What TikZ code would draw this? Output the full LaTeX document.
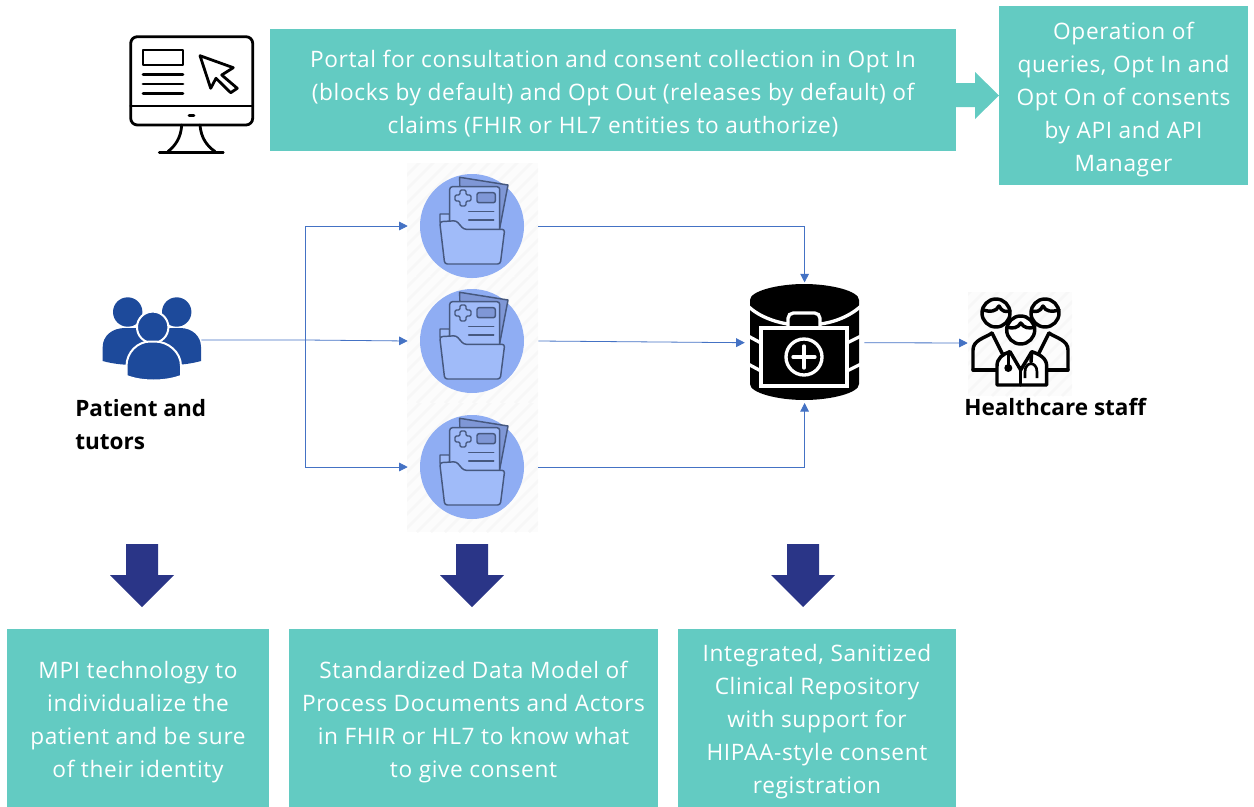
\documentclass[tikz,border=0pt]{standalone}
\usepackage{fontspec}
\setmainfont{Open Sans}
\newfontfamily\boxfont[LetterSpace=2.8]{Open Sans}
\usetikzlibrary{arrows.meta}

\definecolor{boxteal}{HTML}{63CBC2}
\definecolor{navyarrow}{HTML}{2A3587}
\definecolor{linkblue}{HTML}{4472C4}
\definecolor{folderdisc}{HTML}{8FADF3}
\definecolor{foldersheet}{HTML}{A0BBF9}
\definecolor{folderdark}{HTML}{7F97D6}
\definecolor{folderline}{HTML}{46587F}
\definecolor{peopleblue}{HTML}{1D4A9B}

\newcommand\toprule{\rule{0pt}{18.5pt}}

\tikzset{
  textbox/.style={fill=boxteal,text=white,inner sep=0pt,align=center,font=\boxfont\fontsize{17}{24.75}\selectfont},
  boldlabel/.style={inner sep=0pt,align=left,font=\fontsize{16.9}{24.75}\selectfont\bfseries},
  link/.style={draw=linkblue,line width=0.6pt,-{Triangle[length=6.5pt,width=6.5pt]}},
  hatch/.style={draw=black!3,line width=2pt},
  icon/.style={line width=2.1pt,line cap=round,line join=round},
}

\begin{document}
\begin{tikzpicture}[x=0.75pt,y=0.75pt,yscale=-1,xscale=1]
\useasboundingbox (0,0) rectangle (1254,807);

% pale squares behind the icons
\foreach \bx/\by/\bw/\bh in {407/163/131/114, 407/277/131/126, 407/403/131/129, 968/292/104/104} {
  \begin{scope}
    \clip (\bx,\by) rectangle ++(\bw,\bh);
    \fill[black!1] (\bx,\by) rectangle ++(\bw,\bh);
    \foreach \hx in {0,14,...,280} {
      \draw[hatch] (\bx+\hx-130,\by+\bh) -- ++(130,-130);
    }
  \end{scope}
}

% text boxes
\node[textbox,minimum width=514.5pt,minimum height=91.5pt] (portal) at (613,90) {\toprule Portal for consultation and consent collection in Opt In\\(blocks by default) and Opt Out (releases by default) of\\claims (FHIR or HL7 entities to authorize)};
\node[textbox,minimum width=186.75pt,minimum height=134.25pt] (operation) at (1123.5,95.5) {\toprule Operation of\\queries, Opt In and\\Opt On of consents\\by API and API\\Manager};
\node[textbox,minimum width=196.5pt,minimum height=133.5pt] (mpi) at (138,718) {\toprule MPI technology to\\individualize the\\patient and be sure\\of their identity};
\node[textbox,minimum width=276.75pt,minimum height=133.5pt] (model) at (473.5,718) {\toprule Standardized Data Model of\\Process Documents and Actors\\in FHIR or HL7 to know what\\to give consent};
\node[textbox,minimum width=208.5pt,minimum height=133.5pt] (repo) at (817,718) {\toprule Integrated, Sanitized\\Clinical Repository\\with support for\\HIPAA-style consent\\registration};

% block arrows
\fill[boxteal] (956,83) -- (975,83) -- (975,72) -- (999,95.5) -- (975,119) -- (975,107) -- (956,107) -- cycle;
\foreach \ax in {142,472,803} {
  \fill[navyarrow] (\ax-16,544) -- (\ax+16,544) -- (\ax+16,575) -- (\ax+32,575) -- (\ax,607) -- (\ax-32,575) -- (\ax-16,575) -- cycle;
}

% computer
\draw[icon,rounded corners=5pt] (130.7,36.7) rectangle (252.7,125);
\draw[icon] (130.7,106) -- (252.7,106);
\draw[icon] (189,115.7) -- (194,115.7);
\draw[icon] (143,50) rectangle (183,65);
\foreach \ly in {74.3,84,93.3} {
  \draw[icon] (143,\ly) -- (183,\ly);
}
\draw[icon] (200,55.7) -- (233.3,67.7) -- (221.7,75) -- (237.3,88.3) -- (230.7,92.7) -- (216,78.3) -- (210.7,88.3) -- cycle;
\draw[icon] (181.7,125) .. controls (181,138) and (175,146) .. (168,151.5);
\draw[icon] (200,125) .. controls (201,138) and (207,146) .. (215,151.5);
\draw[icon] (159.3,152.3) -- (223.3,152.3);

% patient and tutors
\node[minimum width=75pt,minimum height=62pt,inner sep=0pt] (patient) at (151,340) {};
\fill[peopleblue] (127.7,312) circle (14.7);
\fill[peopleblue] (176.7,312) circle (14.7);
\fill[peopleblue] (102.7,361) -- (102.7,347) .. controls (102.7,336) and (112,328) .. (125,328) -- (180,328) .. controls (192,328) and (201,336) .. (201,347) -- (201,361) .. controls (190,364) and (180,365) .. (170,365) -- (135,365) .. controls (125,365) and (113,364) .. (102.7,361) -- cycle;
\draw[fill=peopleblue,draw=white,line width=1.5pt] (152.7,327.3) circle (15.7);
\draw[fill=peopleblue,draw=white,line width=1.5pt] (126.5,376) -- (126.5,366) .. controls (126.5,352) and (138,341.5) .. (150,341.5) -- (155,341.5) .. controls (168,341.5) and (181,352) .. (181,366) -- (181,376) .. controls (165,382) and (142,382) .. (126.5,376) -- cycle;
\node[boldlabel,anchor=north west] (patientlabel) at (75,399) {Patient and\\tutors};

% record folders
\foreach \fy/\fname in {226/folderA,341/folderB,467/folderC} {
  \node[minimum width=97.5pt,minimum height=78pt,inner sep=0pt] (\fname) at (473,\fy) {};
  \begin{scope}[shift={(472,\fy)}]
    \fill[folderdisc] (0,0) circle (52);
    \begin{scope}[draw=folderline,line width=1.1pt,line join=round,line cap=round]
      \filldraw[fill=folderdark] (-12.3,-48.7) -- (36,-41) -- (27.7,2.3) -- (-12,-10) -- cycle;
      \filldraw[fill=foldersheet] (-32,-4) -- (-32,-12) -- (-22.3,-12) -- (-22.3,0) -- cycle;
      \filldraw[fill=foldersheet,rounded corners=2pt] (-22.3,10) -- (-22.3,-39.3) -- (27.7,-39.3) -- (27.7,10) -- cycle;
      \filldraw[fill=foldersheet,rounded corners=1pt] (-17,-31) -- (-12,-31) -- (-12,-36) -- (-6,-36) -- (-6,-31) -- (-1,-31) -- (-1,-25) -- (-6,-25) -- (-6,-20) -- (-12,-20) -- (-12,-25) -- (-17,-25) -- cycle;
      \filldraw[fill=folderdark,rounded corners=1.5pt] (5,-33.3) rectangle (23.3,-23.3);
      \draw (-3.3,-14.3) -- (21.7,-14.3);
      \draw (-3.3,-6) -- (21.7,-6);
      \filldraw[fill=foldersheet,rounded corners=2pt] (-32.3,-4.3) -- (-15.7,-5.3) -- (-8.3,3.3) -- (32.7,3.3) -- (28.3,38) -- (-27.3,38) -- cycle;
    \end{scope}
  \end{scope}
}

% clinical repository
\node[minimum width=89.25pt,minimum height=90pt,inner sep=0pt] (repository) at (804.6,342.7) {};
\fill[black] (750,300) .. controls (750,291) and (778,284) .. (804,284) .. controls (831,284) and (859,291) .. (859,300) -- (859,384) .. controls (859,393) and (831,400) .. (804,400) .. controls (778,400) and (750,393) .. (750,384) -- cycle;
\begin{scope}[draw=white,line width=2.5pt]
  \draw (748,306) .. controls (760,318) and (780,323) .. (788,324);
  \draw (820,324) .. controls (830,323) and (848,318) .. (861,306);
  \draw (748,336) -- (761,343);
  \draw (847,343) -- (861,336);
  \draw (748,364) -- (761,371);
  \draw (847,371) -- (861,364);
  \draw[rounded corners=4pt] (788,328) -- (788,313) -- (820,313) -- (820,328);
  \fill[black] (761,328) rectangle (847,386);
  \draw (761,328) rectangle (847,386);
  \draw (804,357) circle (18);
  \draw[line cap=round] (793,357) -- (815,357);
  \draw[line cap=round] (804,346) -- (804,368);
\end{scope}

% healthcare staff
\node[minimum width=78pt,minimum height=78pt,inner sep=0pt] (staff) at (1020,343) {};
\begin{scope}[line width=2.6pt,line cap=round,line join=round]
  \draw (973,370) -- (973,350) .. controls (973,340) and (985,338) .. (992,333);
  \draw (973,370) -- (997,370);
  \draw (1068,370) -- (1068,350) .. controls (1068,340) and (1056,338) .. (1049,333);
  \draw (1068,370) -- (1047,370);
  \draw (996,313) circle (14);
  \draw (1045,313) circle (14);
  \draw (983,310) .. controls (990,312) and (996,312) .. (999,306) .. controls (1002,312) and (1006,312) .. (1010,311);
  \draw (1032,311) .. controls (1036,312) and (1040,312) .. (1043,306) .. controls (1046,312) and (1052,312) .. (1059,310);
  \draw (992,333) -- (1003,355);
  \draw (1049,333) -- (1038,355);
  \fill[white] (1020.7,330) circle (14);
  \draw (1020.7,330) circle (14);
  \draw (1007,327) .. controls (1013,329) and (1018,328) .. (1020.7,323) .. controls (1024,328) and (1029,329) .. (1035,327);
  \draw[fill=white] (997,385) -- (997,366) .. controls (997,358) and (1003,354) .. (1010,351.7) -- (1020.7,370) -- (1031.7,351.7) .. controls (1039,354) and (1046.7,358) .. (1046.7,366) -- (1046.7,385) -- cycle;
  \draw (1020.7,370) -- (1020.7,385);
  \draw (1008.3,352) -- (1008.3,367);
  \draw (1031.7,352) -- (1031,362);
\end{scope}
\fill (1008.3,368) circle (4);
\draw[line width=2pt] (1025,378) -- (1025,372) .. controls (1025,361) and (1037,361) .. (1037,372) -- (1037,378);
\node[boldlabel,anchor=west] (stafflabel) at (964,407) {Healthcare staff};

% connectors
\coordinate (split) at (305,340);
\draw[link] (patient.east) -- (split) -- (folderB.west);
\draw[link] (split) |- (folderA.west);
\draw[link] (split) |- (folderC.west);
\draw[link] (folderA.east) -| (repository.north);
\draw[link] (folderB.east) -- (repository.west);
\draw[link] (folderC.east) -| (repository.south);
\draw[link] (repository.east) -- (staff.west);

\end{tikzpicture}
\end{document}
